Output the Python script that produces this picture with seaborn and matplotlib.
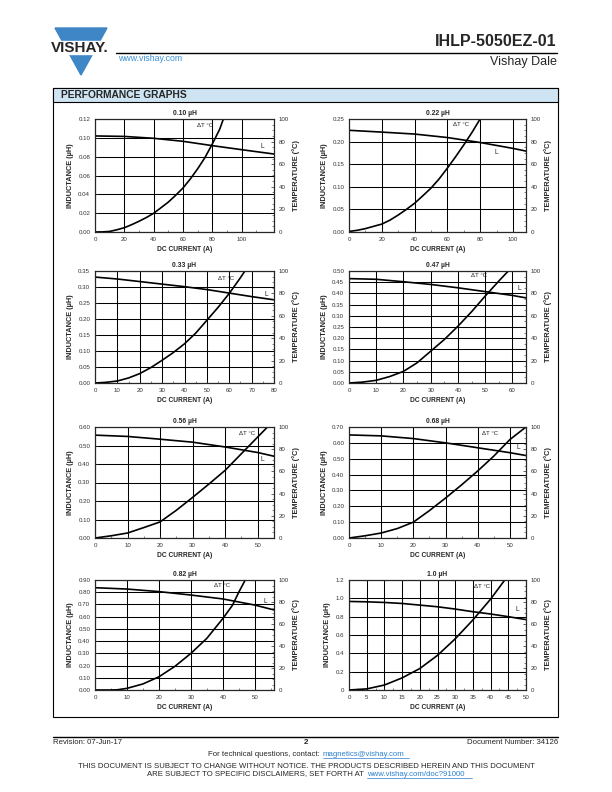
import numpy as np
import matplotlib.pyplot as plt
from matplotlib.patches import Rectangle, Polygon
from matplotlib.lines import Line2D
import seaborn as sns

# ---- data ----
titles = ['0.10 µH', '0.22 µH', '0.33 µH', '0.47 µH', '0.56 µH', '0.68 µH', '0.82 µH', '1.0 µH']

cur_l_010 = [0, 20, 40, 60, 80, 100, 122]
ind_010 = [0.102, 0.1015, 0.0995, 0.0963, 0.0917, 0.0874, 0.0828]
cur_t_010 = [0, 5, 10, 15, 20, 25, 30, 35, 40, 45, 50, 55, 60, 65, 70, 75, 80, 85, 87.5]
temp_010 = [0, 0.1, 0.5, 2, 3.8, 6.5, 9.5, 12.8, 16.6, 21.5, 26.5, 32.5, 39, 47, 56, 66, 78, 91, 100]

cur_l_022 = [0, 20, 40, 60, 80, 100, 108]
ind_022 = [0.225, 0.221, 0.2167, 0.209, 0.198, 0.185, 0.179]
cur_t_022 = [0, 5, 10, 15, 20, 25, 30, 35, 40, 45, 50, 55, 60, 65, 70, 75, 80]
temp_022 = [0.5, 1.5, 3, 5, 7, 10.5, 15, 20, 25.4, 32, 38.8, 47, 56.5, 66.5, 77, 88, 100]

cur_l_033 = [0, 10, 20, 30, 40, 50, 60, 70, 80]
ind_033 = [0.331, 0.325, 0.317, 0.309, 0.301, 0.292, 0.281, 0.270, 0.260]
cur_t_033 = [0, 5, 10, 15, 20, 25, 30, 35, 40, 45, 50, 55, 60, 65, 67]
temp_033 = [0, 0.6, 1.8, 4.5, 8.4, 13.8, 20.3, 27.2, 35, 44.5, 56, 67.5, 80, 94, 100]

cur_l_047 = [0, 10, 20, 30, 40, 50, 60, 65]
ind_047 = [0.466, 0.463, 0.452, 0.440, 0.425, 0.408, 0.391, 0.380]
cur_t_047 = [0, 5, 10, 15, 20, 25, 30, 35, 40, 45, 50, 55, 58.5]
temp_047 = [0, 0.8, 2.4, 5.8, 10.4, 18, 28.4, 38.8, 50.7, 63.6, 77.6, 91, 100]

cur_l_056 = [0, 10, 20, 30, 40, 50, 55]
ind_056 = [0.556, 0.549, 0.534, 0.518, 0.492, 0.462, 0.442]
cur_t_056 = [0, 5, 10, 15, 20, 25, 30, 35, 40, 45, 50, 53]
temp_056 = [0, 2, 4.5, 9.4, 14.5, 25, 36.6, 48.6, 61, 76, 91, 100]

cur_l_068 = [0, 10, 20, 30, 40, 50, 55]
ind_068 = [0.650, 0.644, 0.627, 0.600, 0.569, 0.538, 0.520]
cur_t_068 = [0, 5, 10, 15, 20, 25, 30, 35, 40, 45, 50, 55]
temp_068 = [0, 2, 4.5, 8.5, 14.3, 24.7, 36, 47.9, 60.4, 73.8, 88.7, 100]

cur_l_082 = [0, 10, 20, 30, 40, 50, 56]
ind_082 = [0.837, 0.826, 0.805, 0.777, 0.745, 0.695, 0.655]
cur_t_082 = [0, 5, 7, 10, 15, 20, 25, 30, 35, 40, 43, 45, 47]
temp_082 = [0, 0, 0.2, 1.5, 5.5, 12, 21.5, 33.3, 47, 65, 77, 89, 100]

cur_l_100 = [0, 5, 10, 15, 20, 25, 30, 35, 40, 45, 50]
ind_100 = [0.966, 0.962, 0.955, 0.944, 0.926, 0.908, 0.883, 0.854, 0.829, 0.800, 0.768]
cur_t_100 = [0, 5, 10, 15, 20, 25, 30, 35, 40, 44]
temp_100 = [0, 1, 4.5, 11, 19.5, 31.5, 46.5, 63.7, 82.6, 100]

sns.set_style('ticks')
plt.rcParams['font.family'] = ['Liberation Sans', 'DejaVu Sans']

W, H = 612, 792
fig = plt.figure(figsize=(6.12, 7.92), dpi=100)


def fx(x):
    return x / W


def fy(y):
    return 1 - y / H


# ---- page header ----
fig.add_artist(Polygon([(fx(55), fy(28)), (fx(107), fy(28)), (fx(81), fy(75))],
                       closed=True, color='#3f86c6', transform=fig.transFigure))
fig.add_artist(Rectangle((fx(44), fy(54)), 72 / W, 13 / H, color='white', transform=fig.transFigure))
fig.text(fx(80), fy(47.5), 'VISHAY.', ha='center', va='center', fontsize=11, fontweight='bold')
fig.text(fx(557), fy(41), 'IHLP-5050EZ-01', ha='right', va='center', fontsize=11.5, fontweight='bold')
fig.add_artist(Line2D([fx(116), fx(557)], [fy(52.5), fy(52.5)], color='black', lw=1, transform=fig.transFigure))
fig.text(fx(118), fy(58.5), 'www.vishay.com', ha='left', va='center', fontsize=6.3, color='#3a8fd6')
fig.text(fx(557), fy(62), 'Vishay Dale', ha='right', va='center', fontsize=9)

# performance graphs frame
fig.add_artist(Rectangle((fx(53), fy(717)), 505 / W, 629 / H, fill=False, lw=0.8,
                         edgecolor='black', transform=fig.transFigure))
fig.add_artist(Rectangle((fx(53), fy(102)), 505 / W, 14 / H, facecolor='#cfe4f2', lw=0.8,
                         edgecolor='black', transform=fig.transFigure))
fig.text(fx(61), fy(95), 'PERFORMANCE GRAPHS', ha='left', va='center', fontsize=7.4, fontweight='bold')

# ---- the eight graphs ----
curves = [
    (cur_l_010, ind_010, cur_t_010, temp_010),
    (cur_l_022, ind_022, cur_t_022, temp_022),
    (cur_l_033, ind_033, cur_t_033, temp_033),
    (cur_l_047, ind_047, cur_t_047, temp_047),
    (cur_l_056, ind_056, cur_t_056, temp_056),
    (cur_l_068, ind_068, cur_t_068, temp_068),
    (cur_l_082, ind_082, cur_t_082, temp_082),
    (cur_l_100, ind_100, cur_t_100, temp_100),
]

# box (l, t, r, b) px, xmax, xtick stop, xstep, ymax, ystep, ytick format, dT label pos, L label pos
layout = [
    ((95, 119, 274, 232), 122, 100, 20, 0.12, 0.02, '{:.2f}', (75, 0.113), (114, 0.091)),
    ((349, 119, 526, 232), 108, 100, 20, 0.25, 0.05, '{:.2f}', (68.6, 0.237), (89.6, 0.176)),
    ((95, 271, 274, 383), 80, 80, 10, 0.35, 0.05, '{:.2f}', (58.6, 0.327), (76.7, 0.277)),
    ((349, 271, 526, 383), 65, 60, 10, 0.50, 0.05, '{:.2f}', (47.6, 0.478), (62.5, 0.421)),
    ((95, 427, 274, 538), 55, 50, 10, 0.60, 0.10, '{:.2f}', (46.8, 0.567), (51.3, 0.422)),
    ((349, 427, 526, 538), 55, 50, 10, 0.70, 0.10, '{:.2f}', (43.8, 0.662), (52.6, 0.573)),
    ((95, 580, 274, 690), 56, 50, 10, 0.90, 0.10, '{:.2f}', (39.9, 0.859), (53.4, 0.728)),
    ((349, 580, 526, 690), 50, 50, 5, 1.2, 0.2, '{:.1f}', (37.5, 1.128), (47.5, 0.883)),
]

tick_kw = dict(labelsize=4.4, labelcolor='#333333', length=2, width=0.5, direction='in')
lab_kw = dict(fontsize=5.3, fontweight='bold')

for title, (lx, ly, tx, ty), (box, xmax, xstop, xstep, ymax, ystep, yfmt, dt_pos, l_pos) in zip(titles, curves, layout):
    l, t, r, b = box
    ax = fig.add_axes([fx(l), fy(b), (r - l) / W, (b - t) / H])
    sns.lineplot(x=lx, y=ly, ax=ax, color='black', lw=1.2)
    ax.set_xlim(0, xmax)
    ax.set_ylim(0, ymax)
    ax.set_xticks(np.arange(0, xstop + 0.001, xstep))
    ax.set_xticks(np.arange(xstep / 2, xmax, xstep), minor=True)
    yt = np.arange(0, ymax + ystep / 2, ystep)
    ax.set_yticks(yt)
    ylabels = [yfmt.format(v) for v in yt]
    if yfmt == '{:.1f}':
        ylabels[0] = '0'
    ax.set_yticklabels(ylabels)
    ax.grid(True, which='major', color='black', lw=0.75)
    ax.tick_params(**tick_kw)
    ax.tick_params(which='minor', length=1.2, width=0.4, direction='in')
    for s in ax.spines.values():
        s.set_linewidth(0.8)
        s.set_color('black')
    ax.set_title(title, fontsize=4.9, fontweight='bold', pad=3)
    ax.set_xlabel('DC CURRENT (A)', labelpad=3, fontsize=4.8, fontweight='bold')
    ax.set_ylabel('INDUCTANCE (µH)', labelpad=3, **lab_kw)
    ax.text(dt_pos[0], dt_pos[1], 'ΔT °C', fontsize=4.4, ha='center', va='center', color='#222222')
    ax.text(l_pos[0], l_pos[1], 'L', fontsize=4.8, ha='center', va='center', color='#222222')

    ax2 = ax.twinx()
    sns.lineplot(x=tx, y=ty, ax=ax2, color='black', lw=1.2)
    ax2.set_ylim(0, 100)
    ax2.set_yticks(np.arange(0, 101, 20))
    ax2.set_yticks(np.arange(0, 101, 5), minor=True)
    ax2.tick_params(**tick_kw)
    ax2.tick_params(which='minor', length=1.2, width=0.4, direction='in')
    ax2.set_ylabel('TEMPERATURE (°C)', labelpad=2, **lab_kw)
    for s in ax2.spines.values():
        s.set_linewidth(0.8)

# ---- page footer ----
fig.add_artist(Line2D([fx(53), fx(558)], [fy(737), fy(737)], color='black', lw=1, transform=fig.transFigure))
foot = dict(fontsize=5.6, va='center')
fig.text(fx(53), fy(742.5), 'Revision: 07-Jun-17', ha='left', **foot)
fig.text(fx(306), fy(743), '2', ha='center', fontweight='bold', fontsize=5.8, va='center')
fig.text(fx(558), fy(742.5), 'Document Number: 34126', ha='right', **foot)
fig.text(fx(322), fy(754), 'For technical questions, contact: ', ha='right', **foot)
fig.text(fx(323), fy(754), 'magnetics@vishay.com', ha='left', color='#2a7fd0', **foot)
fig.add_artist(Line2D([fx(323), fx(409)], [fy(758), fy(758)], color='#2a7fd0', lw=0.5, transform=fig.transFigure))
fig.text(fx(306), fy(766), 'THIS DOCUMENT IS SUBJECT TO CHANGE WITHOUT NOTICE. THE PRODUCTS DESCRIBED HEREIN AND THIS DOCUMENT',
         ha='center', **foot)
fig.text(fx(366), fy(774), 'ARE SUBJECT TO SPECIFIC DISCLAIMERS, SET FORTH AT ', ha='right', **foot)
fig.text(fx(367), fy(774), 'www.vishay.com/doc?91000', ha='left', color='#2a7fd0', **foot)
fig.add_artist(Line2D([fx(367), fx(472)], [fy(778), fy(778)], color='#2a7fd0', lw=0.5, transform=fig.transFigure))

fig.savefig('out.png', dpi=100)
